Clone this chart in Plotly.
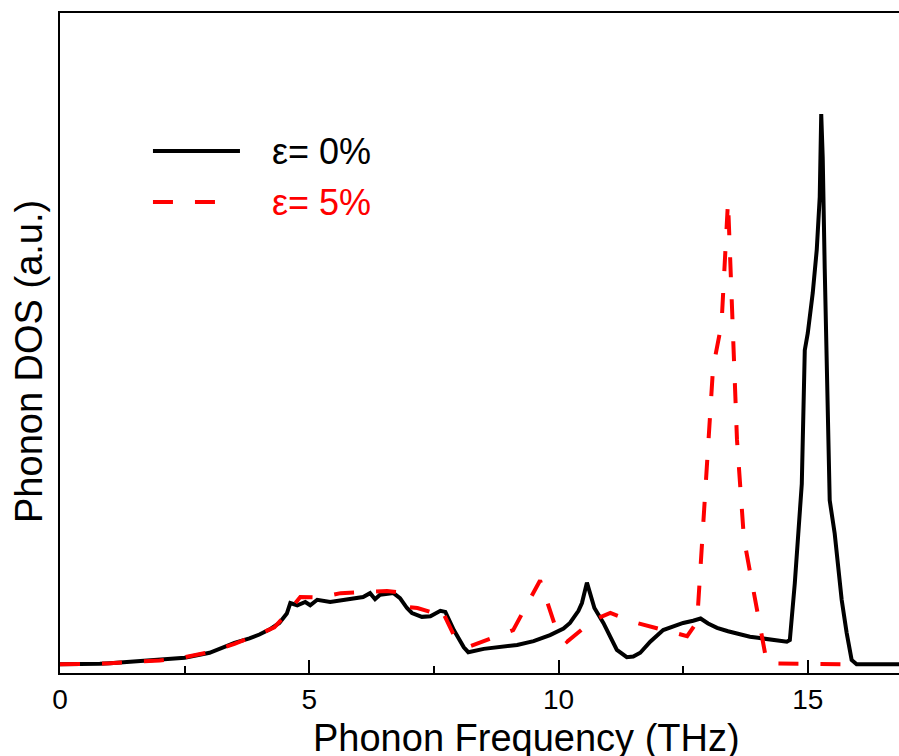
# Imports das bibliotecas
import plotly.graph_objects as go

# Dados: frequência (THz) e DOS (u.a.)
freq_0 = [0.0, 0.5, 0.8, 1.0, 1.5, 2.0, 2.5, 3.0, 3.5, 3.8, 4.0, 4.2, 4.4, 4.55, 4.62, 4.76,
          4.92, 5.02, 5.16, 5.42, 5.76, 6.08, 6.22, 6.32, 6.42, 6.69, 6.82, 6.96, 7.06,
          7.26, 7.43, 7.63, 7.73, 7.9, 8.1, 8.19, 8.5, 8.9, 9.17, 9.5, 9.83, 10.1, 10.23,
          10.4, 10.47, 10.57, 10.65, 10.72, 10.9, 11.0, 11.17, 11.37, 11.5, 11.64, 11.84,
          12.1, 12.3, 12.5, 12.7, 12.85, 13.0, 13.18, 13.4, 13.6, 13.84, 14.0, 14.2, 14.4,
          14.58, 14.64, 14.74, 14.88, 14.94, 15.0, 15.1, 15.18, 15.24, 15.27, 15.3, 15.34,
          15.38, 15.44, 15.54, 15.68, 15.78, 15.88, 15.98, 17.0]
dos_0 = [0.003, 0.003, 0.004, 0.005, 0.008, 0.011, 0.015, 0.024, 0.042, 0.05, 0.057, 0.066,
         0.078, 0.095, 0.114, 0.11, 0.116, 0.11, 0.12, 0.116, 0.121, 0.125, 0.132, 0.121,
         0.129, 0.132, 0.123, 0.105, 0.096, 0.089, 0.09, 0.1, 0.098, 0.065, 0.034, 0.025,
         0.031, 0.035, 0.038, 0.045, 0.056, 0.068, 0.078, 0.1, 0.114, 0.151, 0.125, 0.105,
         0.078, 0.06, 0.029, 0.016, 0.017, 0.024, 0.044, 0.065, 0.072, 0.078, 0.082, 0.086,
         0.077, 0.069, 0.063, 0.058, 0.053, 0.051, 0.048, 0.046, 0.044, 0.047, 0.15, 0.33,
         0.572, 0.603, 0.676, 0.754, 0.85, 1.0, 0.92, 0.72, 0.57, 0.30, 0.24, 0.12, 0.06,
         0.011, 0.003, 0.003]

freq_5 = [0.0, 1.0, 2.0, 2.5, 3.0, 3.5, 4.0, 4.3, 4.6, 4.82, 5.2, 5.63, 6.1, 6.56, 6.76,
          6.96, 7.17, 7.43, 7.63, 7.9, 8.23, 9.09, 9.63, 9.97, 10.17, 10.7, 11.04, 11.57,
          12.58, 12.78, 13.1, 13.27, 13.4, 13.58, 13.72, 14.18, 15.7]
dos_5 = [0.003, 0.005, 0.01, 0.016, 0.025, 0.04, 0.058, 0.07, 0.1, 0.125, 0.124, 0.132,
         0.134, 0.136, 0.134, 0.107, 0.105, 0.098, 0.107, 0.056, 0.036, 0.065, 0.155, 0.062,
         0.044, 0.083, 0.096, 0.078, 0.054, 0.08, 0.54, 0.62, 0.842, 0.41, 0.23, 0.005,
         0.003]

# Ticks do eixo x
x_ticks = [0, 5, 10, 15]
x_labels = ['0', '5', '10', '15']

fonte = 'Liberation Sans, Arial, sans-serif'

fig = go.Figure()
fig.add_trace(go.Scatter(x=freq_0, y=dos_0, mode='lines', name='ε= 0%',
                         line=dict(color='black', width=4)))
fig.add_trace(go.Scatter(x=freq_5, y=dos_5, mode='lines', name='ε= 5%',
                         line=dict(color='#ff0000', width=4, dash='20px,22px')))

# O gráfico original é cortado à direita e embaixo
fig.update_layout(
    width=899, height=756,
    margin=dict(l=60, r=0, t=13, b=83),
    paper_bgcolor='white', plot_bgcolor='white',
    showlegend=False,
    font=dict(family=fonte, color='black'),
)

fig.update_xaxes(
    range=[0, 16.83], showgrid=False, zeroline=False,
    showline=True, linecolor='black', linewidth=2, mirror=True,
    tickmode='array', tickvals=x_ticks, ticktext=x_labels,
    ticks='inside', ticklen=13, tickwidth=2, tickcolor='black',
    tickfont=dict(size=28),
    minor=dict(ticks='inside', ticklen=7, tickwidth=2, tickcolor='black', dtick=2.5, tick0=0),
)
fig.update_yaxes(
    range=[-0.0127, 1.183], showgrid=False, zeroline=False,
    showline=True, linecolor='black', linewidth=2, mirror=False,
    showticklabels=False, ticks='',
)

# Títulos dos eixos
fig.add_annotation(text='Phonon Frequency (THz)', xref='paper', yref='paper',
                   x=0.5566, y=-0.0985, xanchor='center', yanchor='middle',
                   showarrow=False, font=dict(size=38))
fig.add_annotation(text='Phonon DOS (a.u.)', xref='paper', yref='paper',
                   x=-0.037, y=0.4727, xanchor='center', yanchor='middle', textangle=-90,
                   showarrow=False, font=dict(size=38))

# Legenda desenhada à mão
fig.add_shape(type='line', xref='paper', yref='paper', x0=0.1108, x1=0.2145, y0=0.7909, y1=0.7909,
              line=dict(color='black', width=4))
fig.add_shape(type='line', xref='paper', yref='paper', x0=0.1108, x1=0.1883, y0=0.7136, y1=0.7136,
              line=dict(color='#ff0000', width=4, dash='20px,22px'))
fig.add_annotation(text='ε= 0%', xref='paper', yref='paper', x=0.2503, y=0.79,
                   xanchor='left', yanchor='middle', showarrow=False,
                   font=dict(size=36, color='black'))
fig.add_annotation(text='ε= 5%', xref='paper', yref='paper', x=0.2503, y=0.7135,
                   xanchor='left', yanchor='middle', showarrow=False,
                   font=dict(size=36, color='#ff0000'))

# Sem margem na página para o gráfico ficar no canto
fig.write_html('out.html', config={'displayModeBar': False},
               post_script="document.body.style.margin='0px';document.body.style.overflow='hidden';")
